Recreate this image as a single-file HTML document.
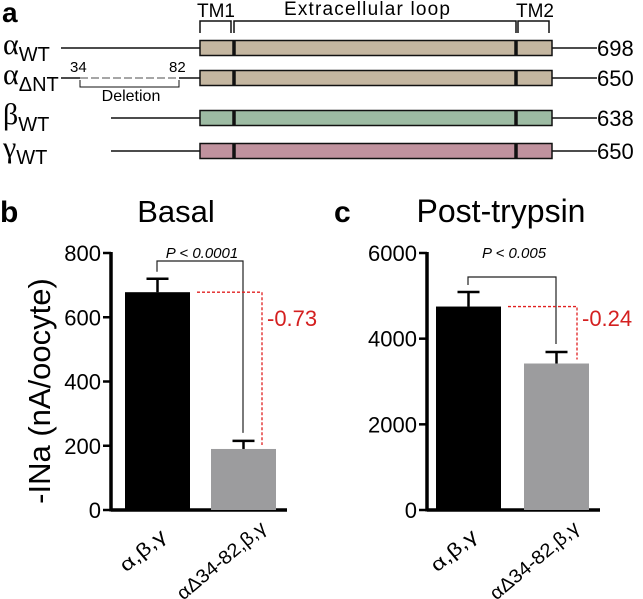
<!DOCTYPE html>
<html><head><meta charset="utf-8"><style>
body{margin:0;background:#fff}
svg{display:block;font-family:"Liberation Sans",Arial,sans-serif}
</style></head><body>
<svg id="fig" width="643" height="599" viewBox="0 0 643 599" xmlns="http://www.w3.org/2000/svg">
<g>
<text x="2" y="22" font-size="28" font-weight="bold">a</text>
<g stroke="#111" stroke-width="1.5" fill="none">
<path d="M200,33V21H231V33"/><path d="M234,33V21H516V33"/><path d="M518,33V21H549V33"/>
</g>
<text x="216" y="17" font-size="19" text-anchor="middle">TM1</text>
<text x="367" y="15" font-size="19" text-anchor="middle" textLength="166">Extracellular loop</text>
<text x="535" y="17" font-size="19" text-anchor="middle">TM2</text>
<g id="rows"></g>
</g>
<g id="panelB"></g>
<g id="panelC"></g>
<text transform="translate(50,391) rotate(-90)" font-size="31" text-anchor="middle">-INa (nA/oocyte)</text>
</svg>
<script>
const NS="http://www.w3.org/2000/svg";
function mk(p,t,a,txt){const e=document.createElementNS(NS,t);for(const k in a)e.setAttribute(k,a[k]);if(txt!=null)e.textContent=txt;p.appendChild(e);return e;}
// panel a rows
const rowLabels=["α","α","β","γ"];
const rowSubs=["WT","ΔNT","WT","WT"];
const rowLengths=["698","650","638","650"];
const rowColors=["#c4b6a0","#c4b6a0","#9dbba3","#c0929e"];
const rowY=[48,78,118,151];
const rowStart=[61,61,111,111];
const rows=document.getElementById('rows');
rowLabels.forEach((l,i)=>{
  const y=rowY[i];
  const g=mk(rows,'g',{});
  
  
  if(i===1){
    mk(g,'line',{x1:61,y1:y,x2:80,y2:y,stroke:'#111','stroke-width':1.5});
    mk(g,'line',{x1:80,y1:y,x2:179,y2:y,stroke:'#888','stroke-width':1.5,'stroke-dasharray':'8,3'});
    mk(g,'line',{x1:179,y1:y,x2:200,y2:y,stroke:'#111','stroke-width':1.5});
    mk(g,'text',{x:70,y:72,'font-size':15},'34');
    mk(g,'text',{x:169,y:72,'font-size':15},'82');
    mk(g,'path',{d:'M80,80V87H179V80',stroke:'#111','stroke-width':1,fill:'none'});
    mk(g,'text',{x:131,y:101,'font-size':16,'text-anchor':'middle'},'Deletion');
  } else mk(g,'line',{x1:rowStart[i],y1:y,x2:200,y2:y,stroke:'#111','stroke-width':1.5});
  mk(g,'line',{x1:552,y1:y,x2:597,y2:y,stroke:'#111','stroke-width':1.5});
  mk(g,'rect',{x:200,y:y-7.5,width:352,height:15,fill:rowColors[i],stroke:'#111','stroke-width':1.5});
  mk(g,'line',{x1:234,y1:y-7.5,x2:234,y2:y+7.5,stroke:'#111','stroke-width':3.5});
  mk(g,'line',{x1:516,y1:y-7.5,x2:516,y2:y+7.5,stroke:'#111','stroke-width':3.5});
  const t=mk(g,'text',{x:3,y:y+6,'font-size':30,'font-family':'"Liberation Serif",serif'});
  mk(t,'tspan',{},l);
  mk(t,'tspan',{'font-size':20,dy:7,'font-family':'"Liberation Sans",sans-serif'},rowSubs[i]);
  mk(g,'text',{x:597,y:y+8,'font-size':22},rowLengths[i]);
});
// bar charts
const categories=["α,β,γ","αΔ34-82,β,γ"];
const basalValues=[678,190];
const basalErrors=[42,25];
const basalTicks=[0,200,400,600,800];
const trypsinValues=[4750,3420];
const trypsinErrors=[340,270];
const trypsinTicks=[0,2000,4000,6000];
function chart(gid,cfg){
  const g=document.getElementById(gid);
  const y0=510,y1=253,ax=cfg.ax;
  const ys=v=>y0-(v/cfg.max)*(y0-y1);
  mk(g,'text',{x:cfg.lx,y:222,'font-size':30,'font-weight':'bold'},cfg.letter);
  mk(g,'text',{x:cfg.tx,y:222,'font-size':cfg.tfs,'text-anchor':'middle'},cfg.title);
  mk(g,'line',{x1:ax,y1:y1-1,x2:ax,y2:y0+1.5,stroke:'#000','stroke-width':3.5});
  mk(g,'line',{x1:ax,y1:y0,x2:cfg.axEnd,y2:y0,stroke:'#000','stroke-width':3.5});
  cfg.ticks.forEach(t=>{
    const y=ys(t);
    mk(g,'line',{x1:ax-8,y1:y,x2:ax,y2:y,stroke:'#000','stroke-width':2.5});
    mk(g,'text',{x:ax-10,y:y+8,'font-size':22,'text-anchor':'end'},String(t));
  });
  const cols=['#000','#9c9c9e'];
  const ldx=[10,24],ldy=[28,20],llen=[54,110];
  cfg.vals.forEach((v,i)=>{
    const x=cfg.bx[i],w=65,cx=x+w/2;
    const top=ys(v),et=ys(v+cfg.errs[i]);
    const eb=mk(g,'path',{d:`M${cx},${top}V${et}M${cx-11},${et}H${cx+11}`,stroke:'#000','stroke-width':2.5,fill:'none'});
    
    
    const r=mk(g,'rect',{x:x,y:top,width:w,height:y0-top,fill:cols[i]});
    
    
    const lbl=mk(g,'text',{transform:`translate(${cx+ldx[i]},${y0+ldy[i]}) rotate(-40)`,'font-size':19,'text-anchor':'end',textLength:llen[i],lengthAdjust:'spacingAndGlyphs'},categories[i]);
    
    
  });
  const c1=cfg.bx[0]+32,c2=cfg.bx[1]+32;
  const bt=cfg.brTop;
  mk(g,'path',{d:`M${c1},${ys(cfg.vals[0]+cfg.errs[0])-7}V${bt}H${c2}V${ys(cfg.vals[1]+cfg.errs[1])-8}`,stroke:'#222','stroke-width':1.2,fill:'none'});
  mk(g,'text',{x:(c1+c2)/2+2,y:cfg.pY,'font-size':15,'font-style':'italic','text-anchor':'middle'},cfg.p);
  const rx=cfg.rx;
  mk(g,'path',{d:`M${cfg.bx[0]+72},${ys(cfg.vals[0])}H${rx}V${ys(cfg.vals[1])-4}`,stroke:'#e02020','stroke-width':1.3,fill:'none','stroke-dasharray':'3,2'});
  mk(g,'text',{x:rx+5,y:326,'font-size':22,fill:'#d42020'},cfg.diff);
}
chart('panelB',{ax:111,axEnd:287,max:800,ticks:basalTicks,vals:basalValues,errs:basalErrors,bx:[125,211],letter:'b',lx:0,title:'Basal',tx:176,tfs:31,brTop:261,pY:258,p:'P < 0.0001',rx:262,diff:'-0.73'});
chart('panelC',{ax:427,axEnd:600,max:6000,ticks:trypsinTicks,vals:trypsinValues,errs:trypsinErrors,bx:[436,524],letter:'c',lx:334,title:'Post-trypsin',tx:501,tfs:32,brTop:277,pY:258,p:'P < 0.005',rx:577,diff:'-0.24'});
</script>
</body></html>
